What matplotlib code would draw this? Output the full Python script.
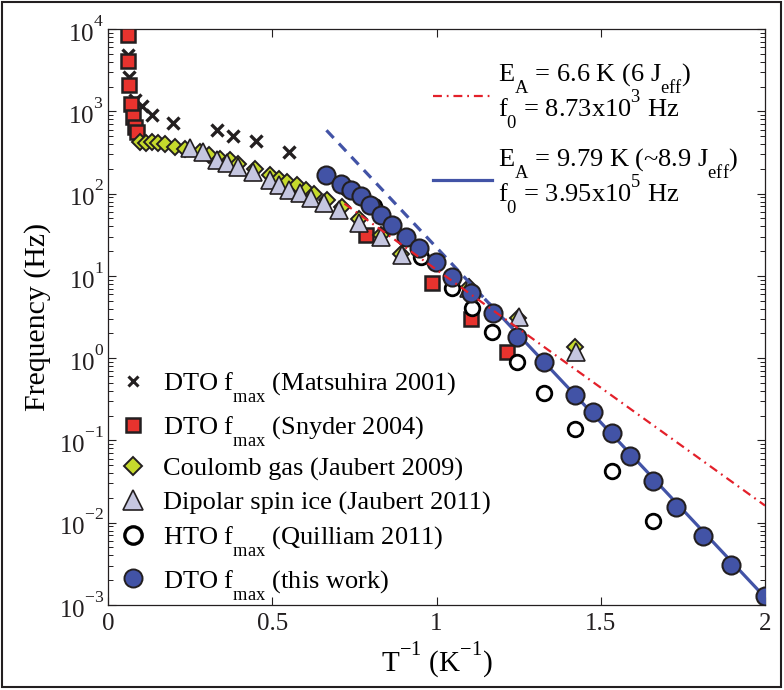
import matplotlib
matplotlib.use('Agg')
import matplotlib.pyplot as plt
import numpy as np
from matplotlib.lines import Line2D
from matplotlib.patches import Rectangle
from matplotlib.ticker import NullFormatter, FixedLocator

plt.rcParams['font.family'] = ['Liberation Serif', 'DejaVu Serif']
plt.rcParams['mathtext.fontset'] = 'custom'
plt.rcParams['mathtext.rm'] = 'Liberation Serif'
plt.rcParams['mathtext.it'] = 'Liberation Serif:italic'
plt.rcParams['mathtext.bf'] = 'Liberation Serif:bold'
plt.rcParams['mathtext.default'] = 'regular'

# deeper subscripts / higher superscripts, as in the reference typesetting
try:
    import matplotlib._mathtext as _mt
    _mt.FontConstantsBase.sub1 = 1.0
    _mt.FontConstantsBase.sup1 = 1.2
except Exception:
    pass

# ---------------- data ----------------
matsuhira_x = [0.060, 0.061, 0.063, 0.082, 0.103, 0.134, 0.197, 0.331, 0.382, 0.452, 0.552]
matsuhira_f = [9200, 4800, 2600, 1380, 1170, 905, 720, 594, 500, 436, 321]

snyder_x = [0.061, 0.061, 0.064, 0.070, 0.076, 0.082, 0.088, 0.786, 0.986, 1.105, 1.214]
snyder_f = [8450, 4080, 2090, 1230, 855, 650, 560, 31.6, 8.3, 2.96, 1.2]

coulomb_x = [0.097, 0.115, 0.134, 0.152, 0.173, 0.203, 0.234, 0.279, 0.307, 0.340,
             0.370, 0.395, 0.446, 0.492, 0.522, 0.546, 0.574, 0.604, 0.628, 0.668,
             0.713, 0.765, 0.832, 0.892, 1.099, 1.247, 1.423]
coulomb_f = [425, 414, 425, 414, 402, 370, 350, 321, 296, 264,
             257, 230, 200, 169, 151, 139, 128, 111, 99.5, 84,
             69, 49, 31.6, 18.6, 7.4, 3.1, 1.35]

dipolar_x = [0.249, 0.288, 0.331, 0.361, 0.395, 0.440, 0.492, 0.522, 0.552, 0.583,
             0.619, 0.659, 0.704, 0.765, 0.832, 0.895, 1.099, 1.250, 1.426]
dipolar_f = [360, 321, 257, 237, 211, 184, 147, 128, 111, 102,
             89, 77, 63, 44, 30, 18, 7.2, 3.2, 1.2]

hto_x = [0.728, 0.774, 0.810, 0.953, 1.047, 1.108, 1.168, 1.244, 1.326, 1.423, 1.533, 1.660]
hto_f = [117, 91, 70, 17, 7.2, 4.1, 2.05, 0.91, 0.38, 0.136, 0.042, 0.0104]

dto_x = [0.665, 0.710, 0.740, 0.771, 0.798, 0.832, 0.865, 0.907, 0.947, 0.998,
         1.047, 1.105, 1.171, 1.244, 1.326, 1.423, 1.475, 1.533, 1.590, 1.660,
         1.730, 1.812, 1.897, 2.000]
dto_f = [169, 131, 111, 94, 73, 55, 42, 30, 22, 14.9,
         9.8, 6.25, 3.5, 1.83, 0.91, 0.36, 0.219, 0.122, 0.064, 0.0317,
         0.0154, 0.0068, 0.0031, 0.00128]

# Arrhenius fits: f = f0 * exp(-EA / T)
fit1_EA, fit1_f0 = 6.6, 8.73e3      # red dash-dot
fit2_EA, fit2_f0 = 9.79, 3.95e5     # blue
fit1_range = (0.72, 2.0)
fit2_dash_range = (0.665, 1.2)
fit2_solid_range = (1.15, 2.0)

xticks = [0, 0.5, 1, 1.5, 2]
xticklabels = ['0', '0.5', '1', '1.5', '2']
ydecades = [-3, -2, -1, 0, 1, 2, 3, 4]

# ---------------- styles ----------------
EDGE = '#231f20'
RED = '#e8332e'
YEL = '#c6da2c'
LAV = '#c5c6e0'
BLUE = '#4253a6'
REDLINE = '#e3202a'

fig = plt.figure(figsize=(7.84, 6.9), dpi=100)
ax = fig.add_axes([108/784, 1-605/690, 657/784, 576/690])
ax.set_yscale('log')

ax.plot(matsuhira_x, matsuhira_f, ls='none', marker='x', ms=9, mew=2.4,
        color=EDGE, zorder=3)
ax.plot(snyder_x, snyder_f, ls='none', marker='s', ms=10, mfc=RED, mec=EDGE,
        mew=1.8, zorder=4)
ax.plot(coulomb_x, coulomb_f, ls='none', marker='D', ms=8, mfc=YEL, mec=EDGE,
        mew=1.4, zorder=5)
ax.plot(dipolar_x, dipolar_f, ls='none', marker='^', ms=13, mfc=LAV, mec=EDGE,
        mew=1.2, zorder=6)
ax.plot(hto_x, hto_f, ls='none', marker='o', ms=10.5, mfc='white', mec='black',
        mew=2.0, zorder=7)

xs = np.linspace(*fit2_dash_range, 50)
ax.plot(xs, fit2_f0*np.exp(-fit2_EA*xs), color=BLUE, lw=2.3,
        dashes=(3.3, 2.4), zorder=8)
xs = np.linspace(*fit2_solid_range, 50)
ax.plot(xs, fit2_f0*np.exp(-fit2_EA*xs), color=BLUE, lw=2.3, zorder=8)

ax.plot(dto_x, dto_f, ls='none', marker='o', ms=13, mfc=BLUE, mec=EDGE,
        mew=1.5, zorder=9)

xs = np.linspace(*fit1_range, 50)
ax.plot(xs, fit1_f0*np.exp(-fit1_EA*xs), color=REDLINE, lw=1.6,
        dashes=(4, 2.2, 0.8, 2.2), zorder=10)

# ---------------- axes ----------------
ax.set_xlim(0, 2)
ax.set_ylim(1e-3, 1e4)
ax.xaxis.set_major_locator(FixedLocator(xticks))
ax.set_xticklabels(xticklabels)
ax.yaxis.set_major_locator(FixedLocator([10.0**d for d in ydecades]))
ax.yaxis.set_minor_locator(FixedLocator([m*10.0**d for d in ydecades[:-1]
                                         for m in range(2, 10)]))
ax.yaxis.set_minor_formatter(NullFormatter())
ax.tick_params(which='both', direction='in', top=True, right=True,
               labelsize=18, colors='#231f20')
ax.tick_params(which='major', length=6, width=0.8)
ax.tick_params(which='minor', length=3.5, width=0.7)
ax.tick_params(axis='y', pad=3)
ax.tick_params(axis='x', pad=6)
for s in ax.spines.values():
    s.set_linewidth(0.9)
    s.set_color('#231f20')

ax.set_xlabel('T$^{-1}$ (K$^{-1}$)', fontsize=21)
ax.set_ylabel('Frequency (Hz)', fontsize=21.5)
ax.yaxis.set_label_coords(-0.108, 0.5)
ax.yaxis.label.set_verticalalignment('center')
ax.xaxis.set_label_coords(0.5, -0.0955)
ax.xaxis.label.set_verticalalignment('center')

# ---------------- legends ----------------
h1 = [
    Line2D([], [], ls='none', marker='x', ms=6.5, mew=2.2, color=EDGE),
    Line2D([], [], ls='none', marker='s', ms=10.5, mfc=RED, mec=EDGE, mew=1.8),
    Line2D([], [], ls='none', marker='D', ms=9, mfc=YEL, mec=EDGE, mew=1.4),
    Line2D([], [], ls='none', marker='^', ms=15, mfc=LAV, mec=EDGE, mew=1.2),
    Line2D([], [], ls='none', marker='o', ms=12.5, mfc='white', mec='black', mew=2.4),
    Line2D([], [], ls='none', marker='o', ms=13, mfc=BLUE, mec=EDGE, mew=1.4),
]
l1 = [
    'DTO f$_{max}$ (Matsuhira 2001)',
    'DTO f$_{max}$ (Snyder 2004)',
    'Coulomb gas (Jaubert 2009)',
    'Dipolar spin ice (Jaubert 2011)',
    'HTO f$_{max}$ (Quilliam 2011)',
    'DTO f$_{max}$ (this work)',
]
leg1 = ax.legend(h1, l1, loc='lower left', bbox_to_anchor=(0.014, 0.006),
                 frameon=False, fontsize=19, handlelength=1.2,
                 handletextpad=0.53, borderpad=0, borderaxespad=0,
                 labelspacing=0.36)
ax.add_artist(leg1)

h2 = [Line2D([], [], color=REDLINE, lw=1.6, dashes=(4, 2.2, 0.8, 2.2)),
      Line2D([], [], color=BLUE, lw=2.3)]
l2 = ['E$_A$ = 6.6 K (6 J$_{eff}$)\nf$_0$ = 8.73x10$^3$ Hz',
      'E$_A$ = 9.79 K (~8.9 J$_{eff}$)\nf$_0$ = 3.95x10$^5$ Hz']
leg2 = ax.legend(h2, l2, loc='upper left', bbox_to_anchor=(0.495, 0.944),
                 frameon=False, fontsize=19, handlelength=2.23,
                 handletextpad=0.23, borderpad=0, borderaxespad=0,
                 labelspacing=0.5)
for t in leg2.get_texts():
    t.set_linespacing(0.75)

fig.patches.append(Rectangle((0.002, 0.004), 0.994, 0.993,
                             transform=fig.transFigure, fill=False,
                             lw=1.5, ec='#231f20'))

fig.savefig('out.png', dpi=100)
